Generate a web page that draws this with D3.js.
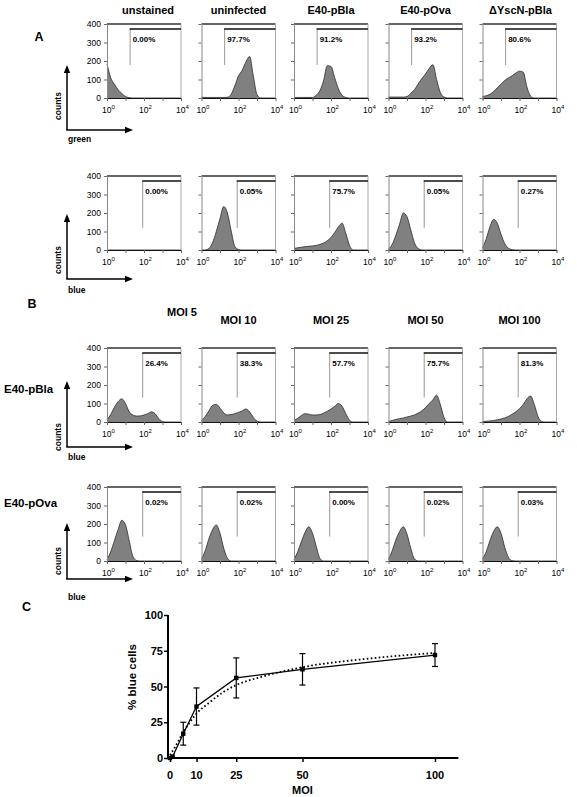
<!DOCTYPE html>
<html><head><meta charset="utf-8">
<script src="https://cdn.jsdelivr.net/npm/d3@7"></script>
<style>body{margin:0;background:#fff} svg{display:block} text{font-family:"Liberation Sans",Arial,Helvetica,sans-serif;fill:#000}</style>
</head><body><svg id="c" width="577" height="797"></svg>
<script>
// ---------- DATA ----------
// log10 fluorescence bin centres (decades)
const logBins = [0,0.2,0.4,0.6,0.8,1.0,1.2,1.4,1.6,1.8,2.0,2.2,2.4,2.6,2.8,3.0,3.2,3.4,3.6,3.8,4.0];
const countTicks = [0,100,200,300,400];
const fluoTicks = [1,10,100,1000,10000];
const fluoLabelExp = [0,2,4];

// Panel A, row 1 (green)
const titlesA = ["unstained","uninfected","E40-pBla","E40-pOva","\u0394YscN-pBla"];
const pctGreen = ["0.00%","97.7%","91.2%","93.2%","80.6%"];
const greenUnstained  = [185,110,75,45,25,8,2,0,0,0,0,0,0,0,0,0,0,0,0,0,0];
const greenUninfected = [4,3,3,3,3,3,3,4,20,65,120,150,195,225,120,18,0,0,0,0,0];
const greenPBla       = [3,3,3,3,3,3,15,40,95,175,170,110,50,15,3,0,0,0,0,0,0];
const greenPOva       = [5,5,5,5,5,8,25,45,75,105,130,160,180,100,30,5,0,0,0,0,0];
const greenYscN       = [8,12,20,35,55,75,95,108,120,135,145,140,60,10,0,0,0,0,0,0,0];
const gateGreen = 1.25;

// Panel A, row 2 (blue)
const pctBlueA = ["0.00%","0.05%","75.7%","0.05%","0.27%"];
const blueUnstained  = [0,0,0,0,0,0,0,0,0,0,0,0,0,0,0,0,0,0,0,0,0];
const blueUninfected = [0,0,8,40,100,170,235,200,105,20,3,0,0,0,0,0,0,0,0,0,0];
const bluePBla       = [8,12,15,18,20,22,25,30,38,50,68,95,125,145,90,25,0,0,0,0,0];
const bluePOva       = [5,30,80,140,200,180,110,40,8,0,0,0,0,0,0,0,0,0,0,0,0];
const blueYscN       = [10,60,125,165,145,85,35,10,2,0,0,0,0,0,0,0,0,0,0,0,0];
const gateBlue = 1.93;

// Panel B
const moiTitles = ["MOI 5","MOI 10","MOI 25","MOI 50","MOI 100"];
const rowLabelsB = ["E40-pBla","E40-pOva"];
const pctBla = ["26.4%","38.3%","57.7%","75.7%","81.3%"];
const blaMoi5   = [12,40,80,110,125,100,55,38,32,33,38,45,55,45,18,3,0,0,0,0,0];
const blaMoi10  = [8,30,60,90,95,75,50,38,40,45,52,60,70,55,25,5,0,0,0,0,0];
const blaMoi25  = [8,20,35,45,42,38,38,40,48,58,70,85,100,85,45,10,0,0,0,0,0];
const blaMoi50  = [3,8,14,18,22,27,32,38,48,60,78,100,120,145,95,25,0,0,0,0,0];
const blaMoi100 = [2,4,6,8,12,16,22,30,42,55,72,95,125,140,95,30,3,0,0,0,0];
const pctOva = ["0.02%","0.02%","0.00%","0.02%","0.03%"];
const ovaMoi5   = [8,50,110,170,220,195,110,25,3,0,0,0,0,0,0,0,0,0,0,0,0];
const ovaMoi10  = [10,55,120,170,195,150,70,15,0,0,0,0,0,0,0,0,0,0,0,0,0];
const ovaMoi25  = [8,50,105,155,185,150,80,15,0,0,0,0,0,0,0,0,0,0,0,0,0];
const ovaMoi50  = [8,55,115,160,185,145,70,12,0,0,0,0,0,0,0,0,0,0,0,0,0];
const ovaMoi100 = [10,50,110,160,185,150,75,20,2,0,0,0,0,0,0,0,0,0,0,0,0];

// Panel C
const moi      = [0,1,5,10,25,50,100];
const pctCells = [0,1,17,36,56,62,72];
const pctErr   = [0,0,8,13,14,11,8];
const fitMoi   = [0,2,5,10,15,20,25,35,50,75,100];
const fitPct   = [2,8,18,31,39,46,51,57,63.5,69.5,73.5];
const moiTicks = [0,10,25,50,100];
const pctTicks = [0,25,50,75,100];

// ---------- LAYOUT ----------
const svg = d3.select("#c");
const panelLefts = [107,201.5,294,388.5,482.5];
const PW = 74, PH = 74;

const rows = [
  {top:24,  hists:[greenUnstained,greenUninfected,greenPBla,greenPOva,greenYscN], pcts:pctGreen, gate:gateGreen, gateBottom:178, tip:65, corner:130, countsY:106, axLabel:"green", axLabelY:142},
  {top:176, hists:[blueUnstained,blueUninfected,bluePBla,bluePOva,blueYscN], pcts:pctBlueA, gate:gateBlue, gateBottom:120, tip:214, corner:279, countsY:260, axLabel:"blue", axLabelY:293},
  {top:348, hists:[blaMoi5,blaMoi10,blaMoi25,blaMoi50,blaMoi100], pcts:pctBla, gate:gateBlue, gateBottom:132, tip:381, corner:447, countsY:437, axLabel:"blue", axLabelY:460},
  {top:487, hists:[ovaMoi5,ovaMoi10,ovaMoi25,ovaMoi50,ovaMoi100], pcts:pctOva, gate:gateBlue, gateBottom:132, tip:523, corner:579, countsY:561, axLabel:"blue", axLabelY:600}
];

const fs = 8.5;

function arrowHead(g, x, y, dir){
  const p = dir==="up" ? [[x,y],[x-3.2,y+8],[x+3.2,y+8]] : [[x,y],[x-8,y-3.2],[x-8,y+3.2]];
  g.append("path").attr("d", d3.line()(p)+"Z").attr("fill","#000");
}

rows.forEach((row, ri) => {
  // counts / fluorescence arrows
  const ag = svg.append("g");
  ag.append("line").attr("x1",67).attr("x2",67).attr("y1",row.corner).attr("y2",row.tip+6).attr("stroke","#000").attr("stroke-width",1.5);
  ag.append("line").attr("x1",66.25).attr("x2",127).attr("y1",row.corner).attr("y2",row.corner).attr("stroke","#000").attr("stroke-width",1.5);
  arrowHead(ag,67,row.tip,"up");
  arrowHead(ag,133,row.corner,"right");
  ag.append("text").attr("transform",`translate(60.5,${row.countsY}) rotate(-90)`).attr("text-anchor","middle")
    .attr("font-size",8.5).attr("font-weight","bold").text("counts");
  ag.append("text").attr("x",68).attr("y",row.axLabelY).attr("font-size",8.5).attr("font-weight","bold").text(row.axLabel);

  row.hists.forEach((h, pi) => {
    const left = panelLefts[pi];
    const x = d3.scaleLog().domain([1,10000]).range([left,left+PW]);
    const y = d3.scaleLinear().domain([0,400]).range([row.top+PH,row.top]);
    const g = svg.append("g");
    const pts = logBins.map((b,i)=>[Math.pow(10,b), h[i]]);
    const area = d3.area().x(d=>x(d[0])).y0(y(0)).y1(d=>y(d[1])).curve(d3.curveMonotoneX);
    const line = d3.line().x(d=>x(d[0])).y(d=>y(d[1])).curve(d3.curveMonotoneX);
    g.append("path").attr("d",area(pts)).attr("fill","#808080");
    g.append("path").attr("d",line(pts)).attr("fill","none").attr("stroke","#2a2a2a").attr("stroke-width",0.8);

    // frame: top & right
    g.append("line").attr("x1",left).attr("x2",left+PW).attr("y1",row.top).attr("y2",row.top).attr("stroke","#333").attr("stroke-width",1.4);
    g.append("line").attr("x1",left+PW).attr("x2",left+PW).attr("y1",row.top).attr("y2",row.top+PH).attr("stroke","#aaa").attr("stroke-width",1);

    // axes
    const xa = g.append("g").attr("transform",`translate(0,${row.top+PH})`)
      .call(d3.axisBottom(x).tickValues(fluoTicks).tickFormat("").tickSize(3).tickSizeOuter(0));
    xa.select(".domain").attr("stroke","#111").attr("stroke-width",1.1);
    xa.selectAll(".tick line").attr("stroke","#666");
    const ya = g.append("g").attr("transform",`translate(${left},0)`)
      .call(d3.axisLeft(y).tickValues(countTicks).tickFormat("").tickSize(3).tickSizeOuter(0));
    ya.select(".domain").attr("stroke","#888").attr("stroke-width",1);
    ya.selectAll(".tick line").attr("stroke","#666");

    if (pi===0){
      countTicks.forEach(c=>{
        g.append("text").attr("x",left-6).attr("y",y(c)+3).attr("text-anchor","end").attr("font-size",fs).text(c);
      });
    }
    fluoLabelExp.forEach(e=>{
      const t = g.append("text").attr("x",x(Math.pow(10,e))-5).attr("y",row.top+PH+15).attr("font-size",fs);
      t.append("tspan").text("10");
      t.append("tspan").attr("dy",-4).attr("font-size",6).text(e);
    });

    // gate
    const gx = x(Math.pow(10,row.gate));
    const gy = row.top+5;
    g.append("line").attr("x1",gx).attr("x2",gx).attr("y1",gy).attr("y2",y(row.gateBottom)).attr("stroke","#999").attr("stroke-width",1);
    g.append("line").attr("x1",gx-0.5).attr("x2",left+PW).attr("y1",gy).attr("y2",gy).attr("stroke","#111").attr("stroke-width",1.4);
    g.append("text").attr("x",gx+2.5).attr("y",gy+13).attr("font-size",8).attr("font-weight","bold").text(row.pcts[pi]);
  });
});

// titles
const titleDx = [4,0,0,0,1];
titlesA.forEach((t,i)=>{
  svg.append("text").attr("x",panelLefts[i]+PW/2+titleDx[i]).attr("y",13.5).attr("text-anchor","middle")
    .attr("font-size",11).attr("font-weight","bold").text(t);
});
moiTitles.forEach((t,i)=>{
  const cx = i===0 ? 182 : panelLefts[i]+PW/2;
  const cy = i===0 ? 315.5 : 323.5;
  svg.append("text").attr("x",cx).attr("y",cy).attr("text-anchor","middle")
    .attr("font-size",11).attr("font-weight","bold").text(t);
});
svg.append("text").attr("x",4).attr("y",393).attr("font-size",11.5).attr("font-weight","bold").text(rowLabelsB[0]);
svg.append("text").attr("x",4).attr("y",507).attr("font-size",11.5).attr("font-weight","bold").text(rowLabelsB[1]);

// panel letters
[["A",34.5,41],["B",27.5,308],["C",22,611]].forEach(([l,x,y])=>{
  svg.append("text").attr("x",x).attr("y",y).attr("font-size",12.5).attr("font-weight","bold").text(l);
});

// ---------- PANEL C ----------
const cx = d3.scaleLinear().domain([0,100]).range([170,435]);
const cy = d3.scaleLinear().domain([0,100]).range([758,615]);
const cg = svg.append("g");
// axes
const cxa = cg.append("g").attr("transform","translate(0,758)")
  .call(d3.axisBottom(cx).tickValues(moiTicks).tickFormat("").tickSize(4).tickSizeOuter(0));
cxa.select(".domain").remove();
cxa.selectAll(".tick line").attr("stroke","#000").attr("stroke-width",1.5);
cg.append("line").attr("x1",167).attr("x2",cx(108.8)).attr("y1",758).attr("y2",758).attr("stroke","#000").attr("stroke-width",2);
const cya = cg.append("g").attr("transform","translate(168,0)")
  .call(d3.axisLeft(cy).tickValues(pctTicks).tickFormat("").tickSize(4).tickSizeOuter(0));
cya.select(".domain").remove();
cya.selectAll(".tick line").attr("stroke","#000").attr("stroke-width",1.5);
cg.append("line").attr("x1",168).attr("x2",168).attr("y1",cy(100)).attr("y2",759).attr("stroke","#000").attr("stroke-width",2);
moiTicks.forEach(m=>{
  cg.append("text").attr("x",cx(m)).attr("y",779).attr("text-anchor","middle").attr("font-size",11).attr("font-weight","bold").text(m);
});
pctTicks.forEach(p=>{
  cg.append("text").attr("x",163).attr("y",cy(p)+4).attr("text-anchor","end").attr("font-size",11).attr("font-weight","bold").text(p);
});
cg.append("text").attr("x",cx(50)).attr("y",794).attr("text-anchor","middle").attr("font-size",11).attr("font-weight","bold").text("MOI");
cg.append("text").attr("transform",`translate(136,677) rotate(-90)`).attr("text-anchor","middle").attr("font-size",11.5).attr("font-weight","bold").text("% blue cells");

// fitted (dotted) curve
const fitLine = d3.line().x((d,i)=>cx(fitMoi[i])).y(d=>cy(d)).curve(d3.curveMonotoneX);
cg.append("path").attr("d",fitLine(fitPct)).attr("fill","none").attr("stroke","#000").attr("stroke-width",1.8).attr("stroke-dasharray","1.6,2.4");
// data line
const dataLine = d3.line().x((d,i)=>cx(moi[i])).y(d=>cy(d));
cg.append("path").attr("d",dataLine(pctCells)).attr("fill","none").attr("stroke","#000").attr("stroke-width",1.3);
// error bars
moi.forEach((m,i)=>{
  if (!pctErr[i]) return;
  const x = cx(m), y1 = cy(pctCells[i]+pctErr[i]), y2 = cy(pctCells[i]-pctErr[i]);
  cg.append("line").attr("x1",x).attr("x2",x).attr("y1",y1).attr("y2",y2).attr("stroke","#000").attr("stroke-width",1.2);
  [y1,y2].forEach(yy=>cg.append("line").attr("x1",x-3).attr("x2",x+3).attr("y1",yy).attr("y2",yy).attr("stroke","#000").attr("stroke-width",1.2));
});
// markers
moi.forEach((m,i)=>{
  cg.append("rect").attr("x",cx(m)-2.2).attr("y",cy(pctCells[i])-2.2).attr("width",4.4).attr("height",4.4).attr("fill","#000");
});
</script>
</body></html>
